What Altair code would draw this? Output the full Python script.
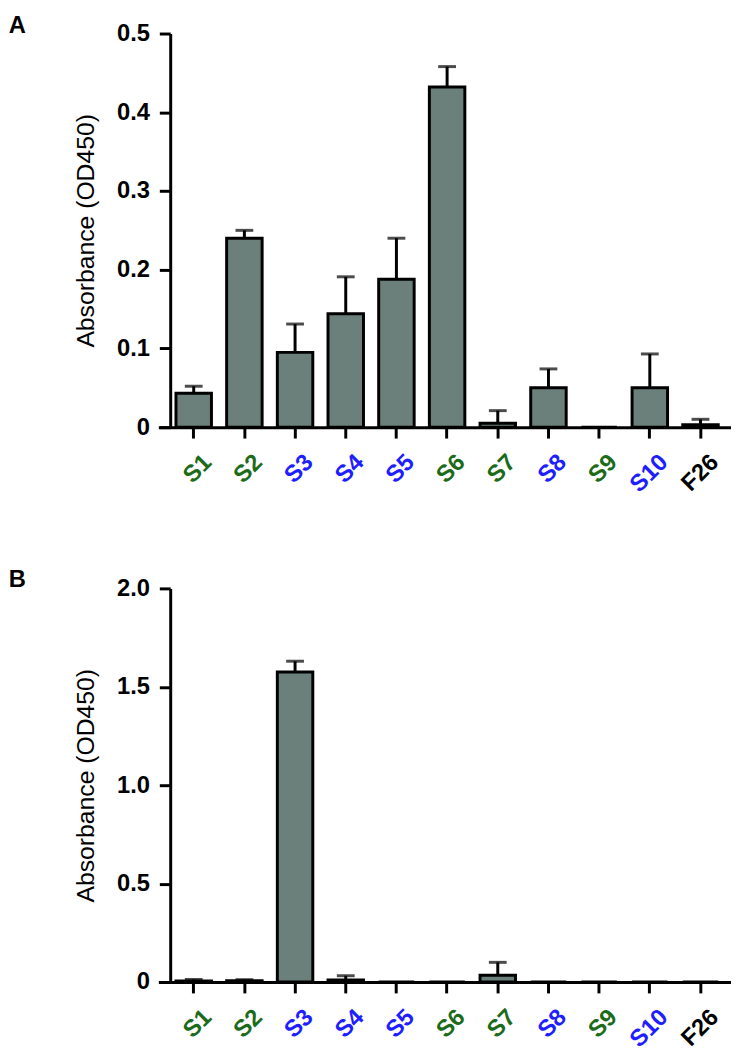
import json
import altair as alt
import pandas as pd

categories = ["S1", "S2", "S3", "S4", "S5", "S6", "S7", "S8", "S9", "S10", "F26"]
label_groups = ["green", "green", "blue", "blue", "blue", "green", "green", "blue", "green", "blue", "black"]

a_mean = [0.043, 0.240, 0.095, 0.144, 0.188, 0.432, 0.005, 0.050, 0.0, 0.050, 0.003]
a_top = [0.052, 0.250, 0.131, 0.191, 0.240, 0.458, 0.021, 0.074, None, 0.093, 0.010]
b_mean = [0.005, 0.006, 1.575, 0.010, 0.0, 0.0, 0.035, 0.0, 0.0, 0.0, 0.0]
b_top = [0.013, 0.012, 1.630, 0.032, None, None, 0.100, None, None, None, None]

a_ticks = [0, 0.1, 0.2, 0.3, 0.4, 0.5]
b_ticks = [0, 0.5, 1.0, 1.5, 2.0]

GREEN = "#1b6b1b"
BLUE = "#1e1eff"
BAR = "#6b7f7b"
FONT = "Liberation Sans"

blue_cats = [c for c, g in zip(categories, label_groups) if g == "blue"]
green_cats = [c for c, g in zip(categories, label_groups) if g == "green"]
label_color = {
    "condition": [
        {"test": "indexof(%s, datum.value) >= 0" % json.dumps(blue_cats), "value": BLUE},
        {"test": "indexof(%s, datum.value) >= 0" % json.dumps(green_cats), "value": GREEN},
    ],
    "value": "black",
}


def panel(letter, means, tops, ticks):
    df = pd.DataFrame({"cat": categories, "mean": means, "top": tops})
    err = df.dropna(subset=["top"])
    xenc = alt.X(
        "cat:N",
        sort=categories,
        scale=alt.Scale(paddingInner=0.3, paddingOuter=0.3, align=0.58),
        axis=alt.Axis(
            title=None,
            labelAngle=-45,
            labelFontSize=24,
            labelFontWeight="bold",
            labelFont=FONT,
            labelColor=label_color,
            labelPadding=12,
            labelOffset=6,
            tickSize=11,
            tickWidth=3,
            tickColor="black",
            domainWidth=3,
            domainColor="black",
        ),
    )
    yscale = alt.Scale(domain=[ticks[0], ticks[-1]], nice=False)
    yaxis = alt.Axis(
        title="Absorbance (OD450)",
        titleFontSize=25,
        titleFontWeight="normal",
        titleFont=FONT,
        titleColor="black",
        titlePadding=18,
        values=ticks,
        labelExpr="datum.value == 0 ? '0' : format(datum.value, '.1f')",
        labelFontSize=24,
        labelFontWeight="bold",
        labelFont=FONT,
        labelColor="black",
        labelPadding=10,
        tickSize=11,
        tickWidth=3,
        tickColor="black",
        domainWidth=3,
        domainColor="black",
        grid=False,
        offset=-12,
    )
    bars = alt.Chart(df).mark_bar(fill=BAR, stroke="black", strokeWidth=3).encode(
        x=xenc,
        y=alt.Y("mean:Q", scale=yscale, axis=yaxis),
    )
    rules = alt.Chart(err).mark_rule(color="black", strokeWidth=3).encode(
        x=alt.X("cat:N", sort=categories),
        y=alt.Y("mean:Q"),
        y2="top:Q",
    )
    caps = alt.Chart(err).mark_tick(color="black", thickness=3, size=18).encode(
        x=alt.X("cat:N", sort=categories),
        y=alt.Y("top:Q"),
    )
    return alt.layer(bars, rules, caps).properties(
        width=579,
        height=398,
        title=alt.TitleParams(
            text=letter,
            anchor="start",
            frame="bounds",
            dx=-66,
            fontSize=24,
            fontWeight="bold",
            font=FONT,
            color="black",
            offset=-16,
        ),
    )


chart = alt.vconcat(
    panel("A", a_mean, a_top, a_ticks),
    panel("B", b_mean, b_top, b_ticks),
    spacing=72,
).configure(padding=0).configure_view(stroke=None)

chart.save("out.html", embed_options={"renderer": "svg", "actions": False})
